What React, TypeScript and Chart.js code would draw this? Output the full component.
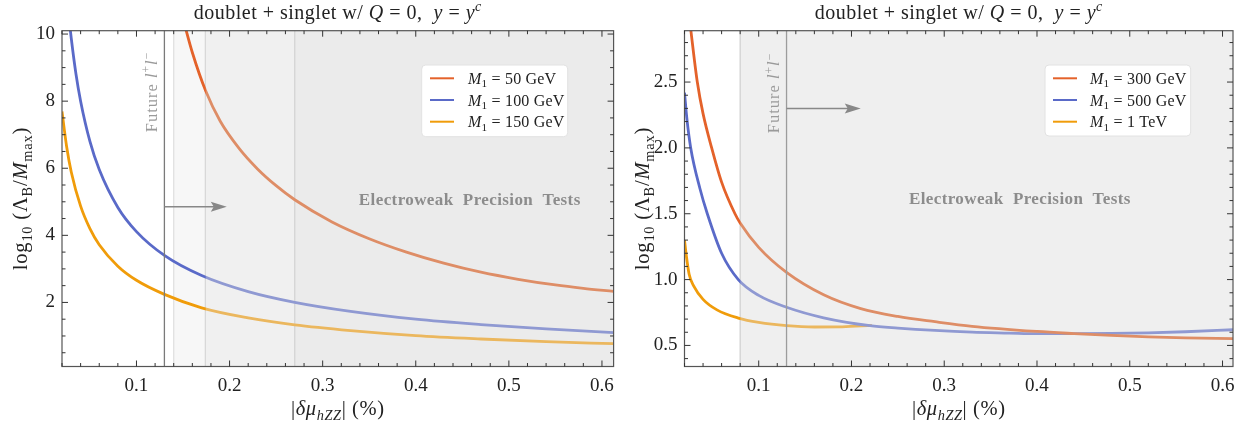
import React, { useEffect, useRef } from "react";
import { Chart, registerables } from "chart.js";
Chart.register(...registerables);

const FONT = '"Liberation Serif", "DejaVu Serif", serif';

// ---------- Left panel data ----------
const leftXTicks = [0.1, 0.2, 0.3, 0.4, 0.5, 0.6];
const leftYTicks = [2, 4, 6, 8, 10];
const x50 = [0.151, 0.16, 0.1744, 0.19, 0.21, 0.23, 0.25, 0.27, 0.31, 0.35, 0.39, 0.43, 0.47, 0.51, 0.55, 0.58, 0.6125];
const y50 = [10.35, 9.45, 8.3, 7.4, 6.6, 5.98, 5.48, 5.06, 4.4, 3.9, 3.5, 3.17, 2.9, 2.69, 2.52, 2.42, 2.33];
const x100 = [0.0285, 0.03, 0.035, 0.04, 0.05, 0.06, 0.08, 0.1, 0.13, 0.17, 0.22, 0.27, 0.33, 0.4, 0.47, 0.54, 0.6125];
const y100 = [10.23, 9.86, 8.81, 8.0, 6.8, 5.96, 4.83, 4.11, 3.4, 2.8, 2.32, 2.0, 1.73, 1.5, 1.34, 1.21, 1.1];
const x150 = [0.02, 0.025, 0.03, 0.04, 0.05, 0.06, 0.08, 0.1, 0.13, 0.17, 0.22, 0.27, 0.33, 0.4, 0.47, 0.54, 0.6125];
const y150 = [7.69, 6.64, 5.88, 4.87, 4.2, 3.72, 3.08, 2.66, 2.24, 1.84, 1.54, 1.33, 1.16, 1.01, 0.91, 0.83, 0.77];
const leftLabels = ["50 GeV", "100 GeV", "150 GeV"];

// ---------- Right panel data ----------
const rightXTicks = [0.1, 0.2, 0.3, 0.4, 0.5, 0.6];
const rightYTicks = [0.5, 1.0, 1.5, 2.0, 2.5];
const x300 = [0.0262, 0.0338, 0.04, 0.0493, 0.06, 0.0744, 0.08, 0.1, 0.13, 0.17, 0.21, 0.25, 0.29, 0.33, 0.4, 0.44, 0.48, 0.52, 0.56, 0.6113];
const y300 = [2.93, 2.5, 2.26, 2.0, 1.74, 1.5, 1.43, 1.245, 1.055, 0.885, 0.78, 0.72, 0.68, 0.645, 0.606, 0.59, 0.576, 0.565, 0.557, 0.551];
const x500 = [0.02, 0.0226, 0.0267, 0.0367, 0.0446, 0.06, 0.078, 0.1, 0.13, 0.17, 0.22, 0.25, 0.29, 0.33, 0.37, 0.4, 0.44, 0.48, 0.52, 0.56, 0.6113];
const y500 = [2.42, 2.22, 2.0, 1.69, 1.5, 1.2, 1.0, 0.88, 0.79, 0.71, 0.65, 0.632, 0.614, 0.601, 0.594, 0.589, 0.589, 0.591, 0.596, 0.604, 0.619];
const x1T = [0.02, 0.022, 0.025, 0.03, 0.04, 0.055, 0.078, 0.1, 0.13, 0.16, 0.19, 0.222];
const y1T = [1.3, 1.18, 1.04, 0.95, 0.85, 0.77, 0.708, 0.675, 0.65, 0.64, 0.641, 0.652];
const rightLabels = ["300 GeV", "500 GeV", "1 TeV"];

const ORANGE = "#E4622A";
const ORANGE_F = "#DE8D66";
const BLUE = "#5A6AC8";
const BLUE_F = "#8F99D2";
const YELLOW = "#F09C0A";
const YELLOW_F = "#EBB75E";

type Seg = { t: string; i?: boolean; b?: boolean; sub?: boolean; sup?: boolean };

function drawRich(
  ctx: CanvasRenderingContext2D,
  segs: Seg[],
  x: number,
  y: number,
  size: number,
  color: string,
  align: "center" | "left",
  spacing = 0
) {
  const fontFor = (s: Seg) => `${s.i ? "italic " : ""}${s.b ? "bold " : ""}${s.sub || s.sup ? size * 0.7 : size}px ${FONT}`;
  const c: any = ctx;
  c.letterSpacing = `${spacing}px`;
  let w = 0;
  for (const s of segs) {
    ctx.font = fontFor(s);
    w += ctx.measureText(s.t).width;
  }
  let cx = align === "center" ? x - w / 2 : x;
  ctx.textAlign = "left";
  ctx.textBaseline = "alphabetic";
  ctx.fillStyle = color;
  for (const s of segs) {
    ctx.font = fontFor(s);
    const dy = s.sub ? size * 0.22 : s.sup ? -size * 0.4 : 0;
    ctx.fillText(s.t, cx, y + dy);
    cx += ctx.measureText(s.t).width;
  }
  c.letterSpacing = "0px";
}

const TITLE: Seg[] = [
  { t: "doublet + singlet w/ " },
  { t: "Q", i: true },
  { t: " = 0,  " },
  { t: "y", i: true },
  { t: " = " },
  { t: "y", i: true },
  { t: "c", i: true, sup: true },
];
const XTITLE: Seg[] = [{ t: "|" }, { t: "δμ", i: true }, { t: "hZZ", i: true, sub: true }, { t: "| (%)" }];
const YTITLE: Seg[] = [
  { t: "log" },
  { t: "10", sub: true },
  { t: " (Λ" },
  { t: "B", sub: true },
  { t: "/" },
  { t: "M", i: true },
  { t: "max", sub: true },
  { t: ")" },
];
const FUTURE: Seg[] = [{ t: "Future " }, { t: "l", i: true }, { t: "+", sup: true }, { t: "l", i: true }, { t: "−", sup: true }];

interface Series { xs: number[]; ys: number[]; color: string; faded: string; fadeAt: number; label: string }
interface PanelCfg {
  series: Series[];
  xMin: number; xMax: number; yMin: number; yMax: number;
  xTicks: number[]; yTicks: number[];
  xMinor: number; xMajor: number; yMinor: number; yMajor: number;
  yFmt: (v: number) => string;
  bands: { from: number; to: number; color: string }[];
  lines: { x: number; color: string }[];
  futureX: number; futureColor: string; futureTextY: number;
  arrowY: number; arrowTo: number;
  ewX: number; ewY: number;
  area: { left: number; right: number; top: number; bottom: number };
  legend: { x: number; y: number; w: number; h: number; lineX0: number; lineX1: number; textX: number; rows: number[] };
}

const W = 622;
const H = 423;

const leftCfg: PanelCfg = {
  series: [
    { xs: x50, ys: y50, color: ORANGE, faded: ORANGE_F, fadeAt: 0.174, label: leftLabels[0] },
    { xs: x100, ys: y100, color: BLUE, faded: BLUE_F, fadeAt: 0.174, label: leftLabels[1] },
    { xs: x150, ys: y150, color: YELLOW, faded: YELLOW_F, fadeAt: 0.174, label: leftLabels[2] },
  ],
  xMin: 0.02, xMax: 0.6125, yMin: 0.09, yMax: 10.1,
  xTicks: leftXTicks, yTicks: leftYTicks,
  xMinor: 0.02, xMajor: 0.1, yMinor: 0.5, yMajor: 2,
  yFmt: (v) => String(v),
  bands: [
    { from: 0.14, to: 0.174, color: "#f7f7f7" },
    { from: 0.174, to: 0.27, color: "#f0f0f0" },
    { from: 0.27, to: 0.6125, color: "#ebebeb" },
  ],
  lines: [
    { x: 0.14, color: "#e0e0e0" },
    { x: 0.174, color: "#d8d8d8" },
    { x: 0.27, color: "#d4d4d4" },
  ],
  futureX: 0.13, futureColor: "#7a7a7a", futureTextY: 92,
  arrowY: 4.85, arrowTo: 0.197,
  ewX: 0.458, ewY: 5.03,
  area: { left: 62, right: 614, top: 30.7, bottom: 366.5 },
  legend: { x: 421.7, y: 65, w: 146, h: 71.7, lineX0: 430, lineX1: 454, textX: 468, rows: [78.3, 100, 121.7] },
};

const rightCfg: PanelCfg = {
  series: [
    { xs: x300, ys: y300, color: ORANGE, faded: ORANGE_F, fadeAt: 0.08, label: rightLabels[0] },
    { xs: x500, ys: y500, color: BLUE, faded: BLUE_F, fadeAt: 0.08, label: rightLabels[1] },
    { xs: x1T, ys: y1T, color: YELLOW, faded: YELLOW_F, fadeAt: 0.08, label: rightLabels[2] },
  ],
  xMin: 0.02, xMax: 0.6113, yMin: 0.34, yMax: 2.89,
  xTicks: rightXTicks, yTicks: rightYTicks,
  xMinor: 0.02, xMajor: 0.1, yMinor: 0.1, yMajor: 0.5,
  yFmt: (v) => v.toFixed(1),
  bands: [{ from: 0.08, to: 0.6113, color: "#efefef" }],
  lines: [{ x: 0.08, color: "#d2d2d2" }],
  futureX: 0.13, futureColor: "#9c9c9c", futureTextY: 93,
  arrowY: 2.3, arrowTo: 0.21,
  ewX: 0.3815, ewY: 1.605,
  area: { left: 62.5, right: 611, top: 30.7, bottom: 366.5 },
  legend: { x: 423, y: 65, w: 145.7, h: 71, lineX0: 431, lineX1: 455, textX: 468, rows: [78.3, 100, 121.7] },
};

function drawMinorMajor(ctx: CanvasRenderingContext2D, scale: any, a: any, isX: boolean, minor: number, major: number) {
  const n0 = Math.ceil(scale.min / minor - 1e-6);
  const n1 = Math.floor(scale.max / minor + 1e-6);
  const ratio = Math.round(major / minor);
  ctx.beginPath();
  for (let k = n0; k <= n1; k++) {
    const p = scale.getPixelForValue(k * minor);
    const len = k % ratio === 0 ? 6 : 3.5;
    if (isX) {
      ctx.moveTo(p, a.bottom); ctx.lineTo(p, a.bottom - len);
      ctx.moveTo(p, a.top); ctx.lineTo(p, a.top + len);
    } else {
      ctx.moveTo(a.left, p); ctx.lineTo(a.left + len, p);
      ctx.moveTo(a.right, p); ctx.lineTo(a.right - len, p);
    }
  }
  ctx.stroke();
}

function makeDecor(cfg: PanelCfg) {
  return {
    id: "decor",
    beforeDatasetsDraw(chart: any) {
      const { ctx, chartArea: a, scales } = chart;
      const x = scales.x;
      ctx.save();
      for (const b of cfg.bands) {
        const x0 = x.getPixelForValue(b.from);
        const x1 = Math.min(x.getPixelForValue(b.to), a.right);
        ctx.fillStyle = b.color;
        ctx.fillRect(x0, a.top, x1 - x0, a.bottom - a.top);
      }
      ctx.lineWidth = 1.3;
      for (const l of cfg.lines) {
        const px = x.getPixelForValue(l.x);
        ctx.strokeStyle = l.color;
        ctx.beginPath(); ctx.moveTo(px, a.top); ctx.lineTo(px, a.bottom); ctx.stroke();
      }
      ctx.restore();
    },
    afterDatasetsDraw(chart: any) {
      const { ctx, chartArea: a, scales } = chart;
      const x = scales.x;
      const y = scales.y;
      ctx.save();
      // future line
      const fx = x.getPixelForValue(cfg.futureX);
      ctx.strokeStyle = cfg.futureColor;
      ctx.lineWidth = 1.3;
      ctx.beginPath(); ctx.moveTo(fx, a.top); ctx.lineTo(fx, a.bottom); ctx.stroke();
      // arrow
      const ay = y.getPixelForValue(cfg.arrowY);
      const ax1 = x.getPixelForValue(cfg.arrowTo);
      ctx.strokeStyle = "#888";
      ctx.fillStyle = "#888";
      ctx.lineWidth = 1.5;
      ctx.beginPath(); ctx.moveTo(fx, ay); ctx.lineTo(ax1 - 12, ay); ctx.stroke();
      ctx.beginPath(); ctx.moveTo(ax1, ay); ctx.lineTo(ax1 - 16, ay - 5); ctx.lineTo(ax1 - 13, ay); ctx.lineTo(ax1 - 16, ay + 5); ctx.closePath(); ctx.fill();
      // future text (rotated)
      ctx.save();
      ctx.translate(fx - 13, cfg.futureTextY);
      ctx.rotate(-Math.PI / 2);
      drawRich(ctx, FUTURE, 0, 16 * 0.35, 16.5, "#9a9a9a", "center", 1);
      ctx.restore();
      // EW text
      ctx.font = `bold 17px ${FONT}`;
      (ctx as any).letterSpacing = "0.4px";
      ctx.fillStyle = "#8c8c8c";
      ctx.textAlign = "center";
      ctx.textBaseline = "middle";
      ctx.fillText("Electroweak  Precision  Tests", x.getPixelForValue(cfg.ewX), y.getPixelForValue(cfg.ewY));
      (ctx as any).letterSpacing = "0px";
      // legend
      const L = cfg.legend;
      ctx.fillStyle = "rgba(255,255,255,0.97)";
      ctx.strokeStyle = "#e2e2e2";
      ctx.lineWidth = 1;
      ctx.beginPath();
      (ctx as any).roundRect(L.x, L.y, L.w, L.h, 4);
      ctx.fill(); ctx.stroke();
      cfg.series.forEach((s, i) => {
        const ry = L.rows[i];
        ctx.strokeStyle = s.color;
        ctx.lineWidth = 2;
        ctx.beginPath(); ctx.moveTo(L.lineX0, ry); ctx.lineTo(L.lineX1, ry); ctx.stroke();
        drawRich(ctx, [{ t: "M", i: true }, { t: "1", sub: true }, { t: " = " + s.label }], L.textX, ry + 5.5, 16, "#222", "left", 0.2);
      });
      // frame
      ctx.strokeStyle = "#555";
      ctx.lineWidth = 1.2;
      ctx.strokeRect(a.left, a.top, a.right - a.left, a.bottom - a.top);
      // ticks
      ctx.strokeStyle = "#333";
      ctx.lineWidth = 1;
      drawMinorMajor(ctx, x, a, true, cfg.xMinor, cfg.xMajor);
      drawMinorMajor(ctx, y, a, false, cfg.yMinor, cfg.yMajor);
      // titles
      const cx = (a.left + a.right) / 2;
      drawRich(ctx, TITLE, cx, 19, 20, "#222", "center", 0.5);
      drawRich(ctx, XTITLE, cx, 415, 20.5, "#222", "center", 0.6);
      ctx.save();
      ctx.translate(20, (a.top + a.bottom) / 2);
      ctx.rotate(-Math.PI / 2);
      drawRich(ctx, YTITLE, 0, 20 * 0.35, 20.5, "#222", "center", 0.8);
      ctx.restore();
      ctx.restore();
    },
  };
}

function Panel({ cfg, left }: { cfg: PanelCfg; left: number }) {
  const ref = useRef<HTMLCanvasElement>(null);
  useEffect(() => {
    const canvas = ref.current!;
    const a = cfg.area;
    const chart = new Chart(canvas, {
      type: "line",
      data: {
        datasets: cfg.series.map((s) => ({
          label: s.label,
          data: s.xs.map((xv, i) => ({ x: xv, y: s.ys[i] })),
          borderColor: (c: any) => {
            const ch = c.chart;
            const ar = ch.chartArea;
            if (!ar || !ch.scales.x) return s.color;
            const px = ch.scales.x.getPixelForValue(s.fadeAt);
            const f = Math.min(1, Math.max(0, (px - ar.left) / (ar.right - ar.left)));
            const g = ch.ctx.createLinearGradient(ar.left, 0, ar.right, 0);
            g.addColorStop(0, s.color);
            g.addColorStop(f, s.color);
            g.addColorStop(Math.min(1, f + 0.001), s.faded);
            g.addColorStop(1, s.faded);
            return g;
          },
          borderWidth: 2.8,
          pointRadius: 0,
          fill: false,
          cubicInterpolationMode: "monotone",
          clip: 0,
        })) as any,
      },
      options: {
        responsive: false,
        animation: false,
        layout: { padding: { left: 0, right: W - a.right, top: a.top, bottom: 0 } },
        plugins: { legend: { display: false }, tooltip: { enabled: false }, title: { display: false } },
        scales: {
          x: {
            type: "linear",
            min: cfg.xMin,
            max: cfg.xMax,
            afterBuildTicks: (ax: any) => { ax.ticks = cfg.xTicks.map((v) => ({ value: v })); },
            afterFit: (ax: any) => { ax.height = H - a.bottom; },
            grid: { display: false, drawTicks: false },
            border: { display: false },
            ticks: {
              font: { family: FONT, size: 19 },
              color: "#222",
              padding: 8,
              maxRotation: 0,
              autoSkip: false,
              callback: (v: any) => Number(v).toFixed(1),
            },
          },
          y: {
            type: "linear",
            min: cfg.yMin,
            max: cfg.yMax,
            afterBuildTicks: (ax: any) => { ax.ticks = cfg.yTicks.map((v) => ({ value: v })); },
            afterFit: (ax: any) => { ax.width = a.left; },
            grid: { display: false, drawTicks: false },
            border: { display: false },
            ticks: {
              font: { family: FONT, size: 19 },
              color: "#222",
              padding: 7,
              autoSkip: false,
              callback: (v: any) => cfg.yFmt(Number(v)),
            },
          },
        },
      } as any,
      plugins: [makeDecor(cfg)],
    });
    return () => chart.destroy();
  }, []);
  return (
    <canvas
      ref={ref}
      width={W}
      height={H}
      style={{ position: "absolute", left, top: 0, width: W, height: H }}
    />
  );
}

export default function App() {
  return (
    <div style={{ position: "absolute", left: 0, top: 0, width: 1244, height: 423, background: "#fff" }}>
      <Panel cfg={leftCfg} left={0} />
      <Panel cfg={rightCfg} left={622} />
    </div>
  );
}
